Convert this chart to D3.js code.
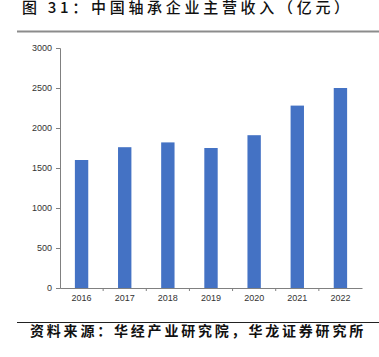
<!DOCTYPE html>
<html><head><meta charset="utf-8">
<script src="https://cdn.jsdelivr.net/npm/d3@7"></script>
<style>body{margin:0;background:#fff;}svg{display:block;}</style>
</head><body>
<svg id="c" width="379" height="357"></svg>
<script>
const categories = ["2016","2017","2018","2019","2020","2021","2022"];
const values = [1600, 1760, 1820, 1750, 1910, 2280, 2500];
const yTicks = [0, 500, 1000, 1500, 2000, 2500, 3000];
const titleText = "图 31：中国轴承企业主营收入（亿元）";
const sourceText = "资料来源：华经产业研究院，华龙证券研究所";

const svg = d3.select("#c");
const m = {left: 60, right: 17, top: 48, bottom: 69};
const W = 379, H = 357;
const x = d3.scaleBand().domain(categories).range([m.left, W - m.right]).paddingInner(0.69).paddingOuter(0.345);
const y = d3.scaleLinear().domain([0, 3000]).range([H - m.bottom, m.top]);

// title (the reference's title is itself clipped slightly at the top edge)
svg.append("text").attr("x", 22).attr("y", 13)
  .attr("font-family", "'Noto Sans CJK SC'").attr("font-weight", 500)
  .attr("font-size", 15).attr("letter-spacing", 3.7).attr("fill", "#111").text(titleText);
svg.append("line").attr("x1", 17).attr("x2", 379).attr("y1", 31.5).attr("y2", 31.5)
  .attr("stroke", "#8c8c8c").attr("stroke-width", 2);

// bars
svg.selectAll("rect.bar").data(values).join("rect").attr("class", "bar")
  .attr("x", (d, i) => x(categories[i])).attr("width", x.bandwidth())
  .attr("y", d => y(d)).attr("height", d => y(0) - y(d)).attr("fill", "#4472C4");

// y axis
const ya = svg.append("g").attr("transform", `translate(${m.left},0)`)
  .call(d3.axisLeft(y).tickValues(yTicks).tickFormat(d3.format("d")).tickSize(4).tickPadding(4));
ya.select(".domain").attr("stroke", "#808080");
ya.selectAll(".tick line").attr("stroke", "#808080");
ya.selectAll("text").attr("font-family", "'Liberation Sans', Arial").attr("font-size", 9).attr("fill", "#333");

// x axis
const xa = svg.append("g").attr("transform", `translate(0,${y(0)})`)
  .call(d3.axisBottom(x).tickSize(0).tickPadding(7));
xa.select(".domain").attr("stroke", "#808080").attr("stroke-width", 1.2);
xa.selectAll("text").attr("font-family", "'Liberation Sans', Arial").attr("font-size", 9).attr("fill", "#333");
// tick marks at band boundaries
const step = x.step();
const bounds = categories.slice(1).map(c => x(c) - (step - x.bandwidth()) / 2);
xa.selectAll("line.bt").data(bounds).join("line").attr("class", "bt")
  .attr("x1", d => d).attr("x2", d => d).attr("y1", 0).attr("y2", 3).attr("stroke", "#808080");

// source
svg.append("line").attr("x1", 17).attr("x2", 379).attr("y1", 322.5).attr("y2", 322.5)
  .attr("stroke", "#222").attr("stroke-width", 1);
svg.append("text").attr("x", 30).attr("y", 336)
  .attr("font-family", "'Noto Sans CJK SC'").attr("font-weight", "bold")
  .attr("font-size", 14).attr("letter-spacing", 2.8).attr("fill", "#111").text(sourceText);
</script>
</body></html>
